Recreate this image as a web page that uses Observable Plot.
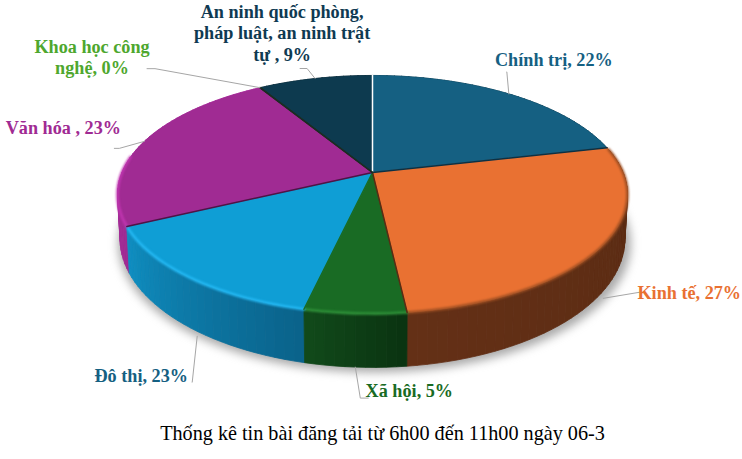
<!DOCTYPE html>
<html lang="vi">
<head>
<meta charset="utf-8">
<script src="https://cdn.jsdelivr.net/npm/d3@7"></script>
<script src="https://cdn.jsdelivr.net/npm/@observablehq/plot@0.6"></script>
<style>
html,body{margin:0;padding:0;background:#fff}
svg{display:block}
#caption{position:absolute;left:0;top:421px;width:765px;text-align:center;font:20.2px/24px "Liberation Serif",serif;color:#000}
</style>
</head>
<body>
<div id="chart"></div>
<div id="caption"></div>
<script>
// --- data ---
const categories = ["Chính trị", "Kinh tế", "Xã hội", "Đô thị", "Văn hóa", "Khoa học công nghệ", "An ninh"];
const values = [21.4, 26.8, 5.4, 14.3, 23.4, 0, 8.7];
const labels = ["Chính trị, 22%", "Kinh tế, 27%", "Xã hội, 5%", "Đô thị, 23%", "Văn hóa , 23%", "Khoa học công\nnghệ, 0%", "An ninh quốc phòng,\npháp luật, an ninh trật\ntự , 9%"];
const captionText = "Thống kê tin bài đăng tải từ 6h00 đến 11h00 ngày 06-3";

// --- styling ---
const topColors = ["#156082", "#E97132", "#196B24", "#0F9ED5", "#A02B93", "#4EA72E", "#0D3A4F"];
const labelColors = ["#156082", "#E97132", "#196B24", "#156082", "#A02B93", "#4EA72E", "#0F3A52"];
const wallFrom = ["#0d3a4f", "#582a12", "#0a3310", "#0a628a", "#a02b93", "#2f6a1b", "#08222f"];
const wallTo = ["#0d3a4f", "#643016", "#114a1a", "#0f8fc2", "#b530a8", "#2f6a1b", "#08222f"];
const rimColors = ["#156082", "#9c4e22", "#2f9239", "#25baf5", "#c236b2", "#4EA72E", "#0D3A4F"];
const edgeColors = ["#ffffff", "#0b3145", "#5a2b13", "#196B24", "#4c1546", "#1c2c22", "#1c2c22"];

// --- layout: offsets from the rim anchor of each slice ---
const labelOffsets = [[45, -35], [90, -3], [54, 23], [-50, 47], [-81, -14], [-168, -31], [-33, -46]];
const startOffsets = [[0, 0], [4, 3], [0, 0], [6, 8], [0, 0], [0, 0], [0, 0]];
const bendOffsets = [[-2, -22], [40, -3], [5, 31], [1, 54], [-25, 7], [-105, -19], [-8, -10]];
const endOffsets = [[-2, -22], [40, -3], [13, 31], [1, 54], [-30, 7], [-113, -19], [-15, -10]];
const onWall = [false, true, true, true, false, false, false];

// --- projection of the tilted disc onto the picture ---
const cx = 372, cy = 172, k = 0.185, a = 250.6, b = 115;
const rimPoint = t => {
  const u = Math.sin(t), v = Math.cos(t), w = 1 + k * v;
  return [cx + a * u / w, cy - b * v / w];
};
const basePoint = t => {
  const [x, y] = rimPoint(t);
  return [cx + 0.99 * (x - cx), 214.5 + 1.08 * (y - cy)];
};
const arcs = d3.pie().sort(null).value(d => d)(values);
const stepsOf = (s, e, n = 2 * Math.PI / 180) => {
  const c = Math.max(1, Math.ceil((e - s) / n));
  return d3.range(c + 1).map(i => s + (e - s) * i / c);
};

// walls, drawn from back to front
const facets = [];
arcs.forEach((arc, i) => {
  if (arc.endAngle === arc.startAngle) return;
  const ts = stepsOf(arc.startAngle, arc.endAngle);
  const colour = d3.interpolateRgb(wallFrom[i], wallTo[i]);
  d3.pairs(ts).forEach(([t0, t1], j) => {
    facets.push({
      depth: rimPoint((t0 + t1) / 2)[1],
      colour: colour((j + 0.5) / (ts.length - 1)),
      corners: [rimPoint(t0), rimPoint(t1), basePoint(t1), basePoint(t0), rimPoint(t0)]
    });
  });
});
facets.sort((p, q) => p.depth - q.depth);
const wallRows = facets.flatMap((f, id) => f.corners.map(([x, y]) => ({x, y, id, colour: f.colour})));

const topRows = arcs.flatMap((arc, i) => {
  if (arc.endAngle === arc.startAngle) return [];
  const pts = [[cx, cy], ...stepsOf(arc.startAngle, arc.endAngle, Math.PI / 180).map(rimPoint), [cx, cy]];
  return pts.map(([x, y]) => ({x, y, id: i, colour: topColors[i]}));
});

const frontStart = 78 * Math.PI / 180, frontEnd = 278 * Math.PI / 180;
const rimRows = arcs.flatMap((arc, i) => {
  const s = Math.max(arc.startAngle, frontStart), e = Math.min(arc.endAngle, frontEnd);
  if (e <= s) return [];
  return stepsOf(s, e).map(t => {
    const [x, y] = rimPoint(t);
    return {x, y, id: i, colour: rimColors[i]};
  });
});

const edgeRows = arcs.flatMap((arc, i) => {
  const [x, y] = rimPoint(arc.startAngle);
  return [{x: cx, y: cy, id: i, colour: edgeColors[i]}, {x, y, id: i, colour: edgeColors[i]}];
});

const shadowRows = stepsOf(0, 2 * Math.PI).map(t => {
  const [x, y] = basePoint(t);
  return {x: cx + 1.015 * (x - cx) + 2, y: y + 5};
});

const anchorOf = i => {
  const arc = arcs[i], t = (arc.startAngle + arc.endAngle) / 2;
  return onWall[i] ? basePoint(t) : rimPoint(t);
};
const labelRows = labels.map((text, i) => {
  const [x, y] = anchorOf(i);
  return {x: x + labelOffsets[i][0], y: y + labelOffsets[i][1], text, colour: labelColors[i]};
});
const leaderRows = labels.flatMap((_, i) => {
  const [x, y] = anchorOf(i);
  return [
    {x: x + startOffsets[i][0], y: y + startOffsets[i][1], id: i},
    {x: x + bendOffsets[i][0], y: y + bendOffsets[i][1], id: i},
    {x: x + endOffsets[i][0], y: y + endOffsets[i][1], id: i}
  ];
});

const W = 742, H = 418;
const chart = Plot.plot({
  width: W, height: H,
  margin: 0,
  x: {type: "linear", domain: [0, W], range: [0, W], axis: null},
  y: {type: "linear", domain: [0, H], range: [0, H], axis: null},
  color: {type: "identity"},
  style: {background: "#fff", overflow: "visible"},
  marks: [
    Plot.line(shadowRows, {x: "x", y: "y", fill: "#8c8c8c", stroke: "none", fillOpacity: 0.75, imageFilter: "blur(5px)"}),
    Plot.line(wallRows, {x: "x", y: "y", z: "id", fill: "colour", stroke: "colour", strokeWidth: 0.8}),
    Plot.line(topRows, {x: "x", y: "y", z: "id", fill: "colour", stroke: "colour", strokeWidth: 0.4}),
    Plot.line(rimRows, {x: "x", y: "y", z: "id", stroke: "colour", strokeWidth: 2.6, imageFilter: "blur(1px)"}),
    Plot.line(edgeRows, {x: "x", y: "y", z: "id", stroke: "colour", strokeWidth: 1.5}),
    Plot.line(leaderRows, {x: "x", y: "y", z: "id", stroke: "#a6a6a6", strokeWidth: 1}),
    Plot.text(labelRows, {
      x: "x", y: "y", text: "text", fill: "colour",
      fontFamily: "Liberation Serif", fontWeight: "bold", fontSize: 18.2, lineHeight: 1.19,
      textAnchor: "middle", lineAnchor: "middle"
    })
  ]
});
document.getElementById("chart").append(chart);
document.getElementById("caption").textContent = captionText;
</script>
</body>
</html>
